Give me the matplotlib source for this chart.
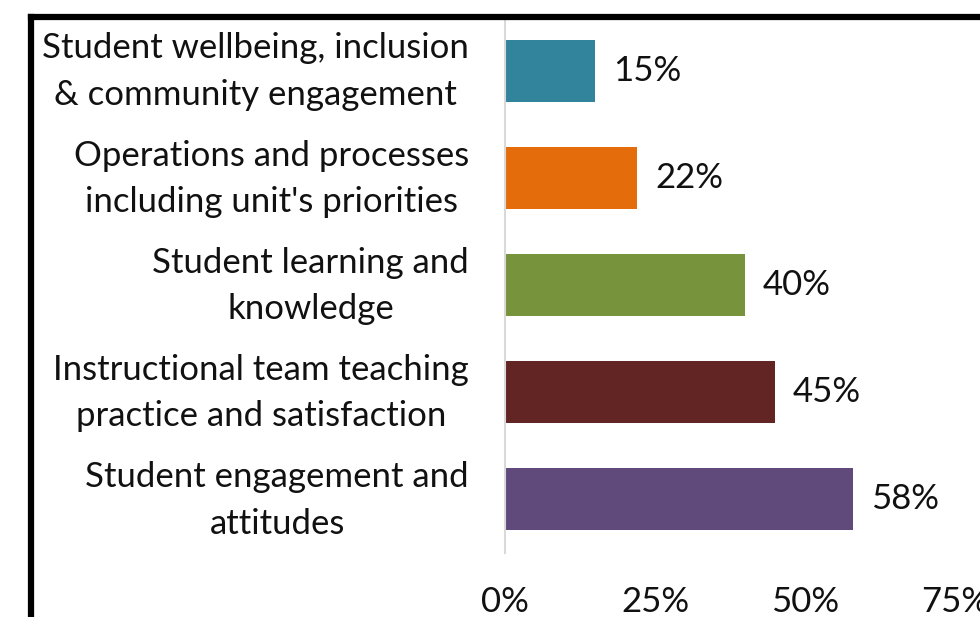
import matplotlib.pyplot as plt
import matplotlib.transforms as mtransforms
from matplotlib.lines import Line2D

categories = ["Student wellbeing, inclusion\n& community engagement",
              "Operations and processes\nincluding unit's priorities",
              "Student learning and\nknowledge",
              "Instructional team teaching\npractice and satisfaction",
              "Student engagement and\nattitudes"]
values = [15, 22, 40, 45, 58]
colors = ['#31849B', '#E46C0A', '#77933C', '#632523', '#604A7B']
xticks = [0, 25, 50, 75]

plt.rcParams['font.family'] = ['Lato', 'DejaVu Sans']
fs = 25

fig = plt.figure(figsize=(9.8, 6.17), dpi=100)
ax = fig.add_axes([505/980, 1 - 553/617, 450/980, 536/617])

y = list(range(len(categories)))[::-1]
ax.barh(y, values, height=0.58, color=colors)
for yi, v in zip(y, values):
    ax.text(v + 3.0, yi, f'{v}%', va='center', ha='left', fontsize=fs, color='#111111')

# category labels drawn as text so they can be nudged
lab_tr = ax.get_yaxis_transform() + mtransforms.ScaledTranslation(-0.36, -0.01, fig.dpi_scale_trans)
for yi, cat in zip(y, categories):
    ax.text(0, yi, cat, transform=lab_tr, ha='right', va='center', multialignment='center',
            linespacing=1.55, fontsize=fs, color='#111111')

ax.set_xlim(0, 75)
ax.set_ylim(-0.5, len(categories) - 0.5)
ax.set_yticks([])
ax.set_xticks(xticks)
ax.set_xticklabels([f'{t}%' for t in xticks], fontsize=fs, color='#111111')
ax.tick_params(axis='x', length=0, pad=24)
for s in ['top', 'right', 'bottom']:
    ax.spines[s].set_visible(False)
ax.spines['left'].set_color('#d9d9d9')
ax.spines['left'].set_linewidth(1.5)

# outer frame
fig.add_artist(Line2D([30.5/980, 30.5/980], [0, 1 - 16.5/617], color='black', lw=4.5,
                      transform=fig.transFigure, solid_capstyle='projecting'))
fig.add_artist(Line2D([30.5/980, 1.0], [1 - 16.5/617, 1 - 16.5/617], color='black', lw=4.5,
                      transform=fig.transFigure, solid_capstyle='projecting'))

fig.savefig('out.png', dpi=100)
